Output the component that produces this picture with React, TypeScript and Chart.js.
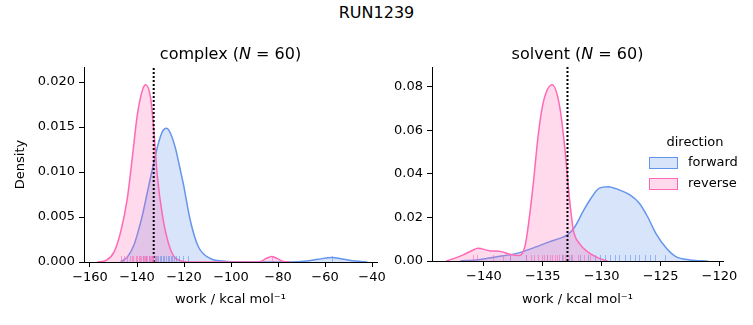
import React, { useEffect, useRef } from "react";
import { Chart, registerables } from "chart.js";

Chart.register(...registerables);

// ---------- data ----------
const directions = ["forward", "reverse"];

// complex panel KDE curves
const complexForwardX = [-147, -144, -141.3, -139.5, -137.7, -134.9, -132.8, -131, -129.2, -127.4, -125.6, -123.6, -121.8, -120.3, -117.4, -113.9, -108.9, -103.4, -95, -75, -68, -63, -57.2, -52, -47, -42];
const complexForwardY = [0, 0.0006, 0.0019, 0.0034, 0.0052, 0.0086, 0.0111, 0.0131, 0.0145, 0.01485, 0.0142, 0.0126, 0.0105, 0.0087, 0.0047, 0.0017, 0.0004, 0.0001, 0, 0, 0.0001, 0.0003, 0.0005, 0.0003, 0.0001, 0];
const complexReverseX = [-157, -153, -149.8, -146.9, -144.1, -142, -139.9, -137.7, -136.3, -134.2, -132.8, -131.4, -129.2, -126.4, -123.5, -118, -90, -87, -85, -82.7, -80.5, -78, -75];
const complexReverseY = [0, 0.0002, 0.0011, 0.0034, 0.0071, 0.0116, 0.0163, 0.0191, 0.0197, 0.0182, 0.0145, 0.0097, 0.0052, 0.0019, 0.0004, 0, 0, 0.0001, 0.0004, 0.0006, 0.0004, 0.0001, 0];

// solvent panel KDE curves
const solventForwardX = [-142, -140.5, -138.9, -137.2, -135.5, -134.4, -133.56, -132.9, -132.3, -131.6, -131, -130.2, -129.47, -128.5, -127.6, -126.8, -126.1, -125.4, -124.5, -123.7, -122.5, -121];
const solventForwardY = [0, 0.0006, 0.002, 0.0035, 0.0066, 0.0089, 0.0104, 0.012, 0.0155, 0.0225, 0.028, 0.0334, 0.0341, 0.0326, 0.0303, 0.0265, 0.0203, 0.0127, 0.0058, 0.002, 0.0005, 0];
const solventReverseX = [-143.2, -142.5, -141.75, -141, -140.5, -139.5, -138.5, -137.8, -137.0, -136.5, -136.2, -135.8, -135.4, -134.97, -134.2, -133.56, -133.14, -132.7, -132.4, -131.9, -131, -130.2, -129.5];
const solventReverseY = [0, 0.0012, 0.0028, 0.0048, 0.0058, 0.0047, 0.0043, 0.0031, 0.0025, 0.007, 0.0173, 0.0357, 0.057, 0.0724, 0.0808, 0.0708, 0.0525, 0.027, 0.0142, 0.0081, 0.0035, 0.0012, 0];

// rug samples
const complexForwardRug = [-137.5, -136.0, -134.8, -133.4, -132.5, -131.8, -131.0, -130.4, -129.7, -129.0, -128.4, -127.7, -127.0, -126.3, -125.6, -124.9, -124.1, -123.2, -122.0, -120.5, -118.5, -57.2];
const complexReverseRug = [-146.8, -145.5, -144.2, -143.0, -142.1, -141.5, -140.6, -139.9, -139.2, -138.7, -138.1, -137.6, -137.0, -136.5, -136.1, -135.6, -135.1, -134.6, -134.0, -133.5, -133.0, -132.4, -131.6, -82.7];
const solventForwardRug = [-137.8, -136.4, -134.6, -133.4, -132.6, -131.8, -131.2, -130.6, -130.1, -129.7, -129.3, -128.9, -128.5, -128.0, -127.6, -127.2, -126.8, -126.3, -125.9, -125.5, -124.6];
const solventReverseRug = [-140.9, -140.6, -139.2, -138.4, -137.8, -136.4, -136.0, -135.7, -135.4, -135.1, -134.9, -134.6, -134.4, -134.2, -134.0, -133.8, -133.6, -133.3, -133.1, -132.8, -132.5, -132.0, -131.5, -131.0];

// reference (dotted) line
const complexRefLine = -132.9;
const solventRefLine = -132.9;

// axes ranges and ticks
const complexXRange = [-162.55, -37.9];
const complexYRange = [0, 0.02167];
const complexXTicks = [-160, -140, -120, -100, -80, -60, -40];
const complexYTicks = [0, 0.005, 0.01, 0.015, 0.02];
const solventXRange = [-144.4, -119.7];
const solventYRange = [0, 0.089];
const solventXTicks = [-140, -135, -130, -125, -120];
const solventYTicks = [0, 0.02, 0.04, 0.06, 0.08];

// ---------- styles ----------
const BLUE = "rgb(100,149,237)";
const BLUE_FILL = "rgba(100,149,237,0.25)";
const BLUE_RUG = "rgba(100,149,237,0.6)";
const PINK = "rgb(255,105,180)";
const PINK_FILL = "rgba(255,105,180,0.25)";
const PINK_RUG = "rgba(255,105,180,0.6)";
const FONT = "'DejaVu Sans', 'Noto Sans', sans-serif";

Chart.defaults.font.family = FONT;
Chart.defaults.color = "#000";

const rugPlugin = {
  id: "rug",
  afterDatasetsDraw(chart: any, _args: any, opts: any) {
    const rugs = opts && opts.rugs;
    if (!rugs) return;
    const xs = chart.scales.x;
    const ys = chart.scales.y;
    const base = ys.getPixelForValue(0);
    const ctx = chart.ctx;
    ctx.save();
    ctx.lineWidth = 1;
    for (const r of rugs) {
      ctx.strokeStyle = r.color;
      for (const v of r.values) {
        const px = Math.round(xs.getPixelForValue(v)) + 0.5;
        ctx.beginPath();
        ctx.moveTo(px, base);
        ctx.lineTo(px, base - 6);
        ctx.stroke();
      }
    }
    ctx.restore();
  },
};

const pts = (xs: number[], ys: number[]) => xs.map((x, i) => ({ x, y: ys[i] }));
const fmtX = (v: number) => String(v).replace("-", "\u2212");

function buildConfig(p: any) {
  return {
    type: "line",
    data: {
      datasets: [
        {
          label: "ref",
          data: [
            { x: p.ref, y: p.yRange[0] },
            { x: p.ref, y: p.yRange[1] },
          ],
          borderColor: "#000",
          borderWidth: 2,
          borderDash: [2, 2],
          pointRadius: 0,
          fill: false,
        },
        {
          label: directions[1],
          data: pts(p.revX, p.revY),
          borderColor: PINK,
          backgroundColor: PINK_FILL,
          borderWidth: 1.5,
          pointRadius: 0,
          fill: "origin",
          cubicInterpolationMode: "monotone",
        },
        {
          label: directions[0],
          data: pts(p.fwdX, p.fwdY),
          borderColor: BLUE,
          backgroundColor: BLUE_FILL,
          borderWidth: 1.5,
          pointRadius: 0,
          fill: "origin",
          cubicInterpolationMode: "monotone",
        },
      ],
    },
    options: {
      animation: false,
      responsive: false,
      devicePixelRatio: 1,
      layout: { padding: { left: 0, right: p.padRight, top: 27, bottom: 0 } },
      plugins: {
        legend: { display: false },
        tooltip: { enabled: false },
        rug: {
          rugs: [
            { values: p.fwdRug, color: BLUE_RUG },
            { values: p.revRug, color: PINK_RUG },
          ],
        },
      },
      scales: {
        x: {
          type: "linear",
          min: p.xRange[0],
          max: p.xRange[1],
          border: { display: true, color: "#000", width: 1 },
          grid: { display: true, drawOnChartArea: false, drawTicks: true, tickLength: 5, color: "#000" },
          ticks: { font: { size: 13, family: FONT }, color: "#000", padding: 3, maxRotation: 0, callback: (v: any) => fmtX(v) },
          title: { display: true, text: "work / kcal mol\u207B\u00B9", font: { size: 13, family: FONT }, color: "#000", padding: { top: 0, bottom: 18 } },
          afterBuildTicks: (s: any) => {
            s.ticks = p.xTicks.map((v: number) => ({ value: v }));
          },
          afterFit: (s: any) => {
            s.height = p.xH;
            s.paddingLeft = 0;
            s.paddingRight = 0;
          },
        },
        y: {
          type: "linear",
          min: p.yRange[0],
          max: p.yRange[1],
          border: { display: true, color: "#000", width: 1 },
          grid: { display: true, drawOnChartArea: false, drawTicks: true, tickLength: 5, color: "#000" },
          ticks: { font: { size: 13, family: FONT }, color: "#000", padding: 4, callback: (v: any) => Number(v).toFixed(p.yDec) },
          title: p.yTitle
            ? { display: true, text: p.yTitle, font: { size: 13, family: FONT }, color: "#000", padding: { top: 13, bottom: 0 } }
            : { display: false },
          afterBuildTicks: (s: any) => {
            s.ticks = p.yTicks.map((v: number) => ({ value: v }));
          },
          afterFit: (s: any) => {
            s.width = p.yW;
            s.paddingTop = 0;
            s.paddingBottom = 0;
          },
        },
      },
    },
    plugins: [rugPlugin],
  };
}

function Panel(props: { params: any; left: number; width: number }) {
  const ref = useRef<HTMLCanvasElement | null>(null);
  useEffect(() => {
    if (!ref.current) return;
    const chart = new Chart(ref.current, buildConfig(props.params) as any);
    return () => chart.destroy();
  }, []);
  return (
    <div style={{ position: "absolute", left: props.left, top: 40, width: props.width, height: 285 }}>
      <canvas ref={ref} width={props.width} height={285} style={{ display: "block" }} />
    </div>
  );
}

const complexParams = {
  fwdX: complexForwardX, fwdY: complexForwardY, revX: complexReverseX, revY: complexReverseY,
  fwdRug: complexForwardRug, revRug: complexReverseRug, ref: complexRefLine,
  xRange: complexXRange, yRange: complexYRange, xTicks: complexXTicks, yTicks: complexYTicks,
  yDec: 3, yW: 84, xH: 63, padRight: 13, yTitle: "Density",
};
const solventParams = {
  fwdX: solventForwardX, fwdY: solventForwardY, revX: solventReverseX, revY: solventReverseY,
  fwdRug: solventForwardRug, revRug: solventReverseRug, ref: solventRefLine,
  xRange: solventXRange, yRange: solventYRange, xTicks: solventXTicks, yTicks: solventYTicks,
  yDec: 2, yW: 42, xH: 64, padRight: 30, yTitle: "",
};

const textBase: React.CSSProperties = {
  position: "absolute",
  fontFamily: FONT,
  color: "#000",
  whiteSpace: "nowrap",
  lineHeight: "20px",
};

export default function App() {
  return (
    <div style={{ position: "fixed", left: 0, top: 0, width: 753, height: 325, background: "#fff", overflow: "hidden" }}>
      <div style={{ ...textBase, fontSize: 16, left: 0, width: 753, top: 3, textAlign: "center" }}>RUN1239</div>
      <Panel params={complexParams} left={0} width={390} />
      <Panel params={solventParams} left={390} width={363} />
      <div style={{ ...textBase, fontSize: 16, left: 84, width: 293, top: 44, textAlign: "center" }}>
        complex (<i>N</i> = 60)
      </div>
      <div style={{ ...textBase, fontSize: 16, left: 432, width: 291, top: 44, textAlign: "center" }}>
        solvent (<i>N</i> = 60)
      </div>
      {/* legend */}
      <div style={{ ...textBase, fontSize: 13, left: 645, width: 100, top: 132, textAlign: "center" }}>direction</div>
      <div style={{ position: "absolute", left: 649, top: 157, width: 27, height: 10, background: BLUE_FILL, border: `1px solid ${BLUE}` }} />
      <div style={{ ...textBase, fontSize: 13, left: 688, top: 152 }}>{directions[0]}</div>
      <div style={{ position: "absolute", left: 649, top: 178, width: 27, height: 10, background: PINK_FILL, border: `1px solid ${PINK}` }} />
      <div style={{ ...textBase, fontSize: 13, left: 688, top: 173 }}>{directions[1]}</div>
    </div>
  );
}
